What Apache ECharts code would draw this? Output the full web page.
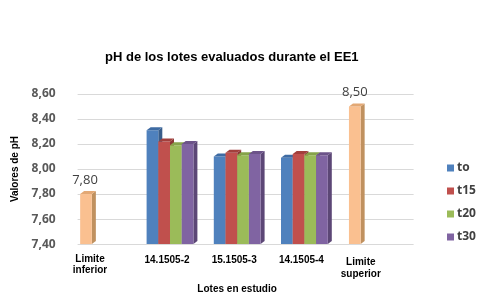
<!DOCTYPE html>
<html><head><meta charset="utf-8">
<script src="https://cdn.jsdelivr.net/npm/echarts@6/dist/echarts.min.js"></script>
<style>html,body{margin:0;padding:0;background:#fff}#c{width:487px;height:299px}</style>
</head><body><div id="c"></div>
<script>
// ---- data ----
const categories = ["Limite\ninferior", "14.1505-2", "15.1505-3", "14.1505-4", "Limite\nsuperior"];
const seriesNames = ["to", "t15", "t20", "t30"];
const toVals  = [8.31, 8.10, 8.09];
const t15Vals = [8.22, 8.13, 8.12];
const t20Vals = [8.19, 8.11, 8.11];
const t30Vals = [8.20, 8.12, 8.11];
const limitVals = [7.80, 8.50]; // Limite inferior, Limite superior
const yMin = 7.4, yMax = 8.6, yStep = 0.2;

// ---- layout (not data) ----
const slotOf = [0, 5, 9, 13, 16];
const nSlots = 20;
const barW = 11.7, depthX = 4, depthY = 3;
const groupColors = [
  {front: '#4F81BD', side: '#385D8A', top: '#3E6BA3'},
  {front: '#C0504D', side: '#8C3836', top: '#A23F3C'},
  {front: '#9BBB59', side: '#71893F', top: '#86A34A'},
  {front: '#8064A2', side: '#5C4776', top: '#6C5389'}
];
const limitColor = {front: '#FAC090', side: '#C0915F', top: '#E3A874'};

const xData = [];
for (let i = 0; i < nSlots; i++) xData.push('');
categories.forEach((c, i) => { xData[slotOf[i]] = c; });

const fmt = v => v.toFixed(2).replace('.', ',');

function makeRender(offsetIdx, nInGroup, col, withLabel) {
  return function (params, api) {
    const x = api.value(0), v = api.value(1);
    const top = api.coord([x, v]);
    const base = api.coord([x, yMin]);
    const off = (offsetIdx - (nInGroup - 1) / 2) * barW;
    const x0 = top[0] + off - barW / 2;
    const x1 = x0 + barW;
    const children = [
      {type: 'polygon', shape: {points: [[x1, top[1]], [x1 + depthX, top[1] - depthY], [x1 + depthX, base[1] - depthY], [x1, base[1]]]}, style: {fill: col.side}},
      {type: 'rect', shape: {x: x0, y: top[1], width: barW, height: base[1] - top[1]}, style: {fill: col.front}},
      {type: 'polygon', shape: {points: [[x0, top[1]], [x0 + depthX, top[1] - depthY], [x1 + depthX, top[1] - depthY], [x1, top[1]]]}, style: {fill: col.top}}
    ];
    if (withLabel) {
      const dx = params.dataIndex === 0 ? -1 : 0;
      children.push({type: 'text', style: {text: fmt(v), x: top[0] + dx, y: top[1] - 14, align: 'center', verticalAlign: 'middle', fill: '#404040', font: '13px "Open Sans"'}});
    }
    return {type: 'group', children: children};
  };
}

const groupVals = [toVals, t15Vals, t20Vals, t30Vals];
const series = groupVals.map((vals, k) => ({
  name: seriesNames[k],
  type: 'custom',
  itemStyle: {color: groupColors[k].front},
  renderItem: makeRender(k, 4, groupColors[k], false),
  data: vals.map((v, i) => [slotOf[i + 1], v])
}));
series.unshift({
  name: 'Limite',
  type: 'custom',
  itemStyle: {color: limitColor.front},
  renderItem: makeRender(0, 1, limitColor, true),
  data: [[slotOf[0], limitVals[0]], [slotOf[4], limitVals[1]]]
});

const chart = echarts.init(document.getElementById('c'), null, {renderer: 'canvas'});
chart.setOption({
  animation: false,
  backgroundColor: '#fff',
  title: {
    text: 'pH de los lotes evaluados durante el EE1',
    left: 100, top: 46,
    textStyle: {fontFamily: 'Liberation Sans', fontWeight: 'bold', fontSize: 13, color: '#000'}
  },
  legend: {
    data: seriesNames,
    orient: 'vertical',
    left: 442, top: 156,
    icon: 'rect', itemWidth: 7, itemHeight: 7, itemGap: 9,
    textStyle: {fontFamily: 'Open Sans', fontWeight: 'bold', fontSize: 12, color: '#404040', lineHeight: 14, padding: [0, 0, 0, -2]}
  },
  grid: {left: 77.6, width: 336, top: 94, height: 156},
  xAxis: {
    type: 'category',
    data: xData,
    boundaryGap: true,
    axisLine: {show: false}, axisTick: {show: false},
    name: 'Lotes en estudio',
    nameLocation: 'middle', nameGap: 36,
    nameTextStyle: {fontFamily: 'Liberation Sans', fontWeight: 'bold', fontSize: 10, color: '#000', padding: [0, 17, 0, 0]},
    axisLabel: {
      interval: 0, margin: 10,
      formatter: function (val, idx) {
        if (!val) return '';
        const st = idx === slotOf[0] ? 'li' : (idx === slotOf[4] ? 'ls' : 'g');
        return val.split('\n').map(l => '{' + st + '|' + l + '}').join('\n');
      },
      rich: {
        g:  {fontFamily: 'Liberation Sans', fontWeight: 'bold', fontSize: 10, color: '#000', lineHeight: 12, padding: [0, 6, 0, 0]},
        li: {fontFamily: 'Liberation Sans', fontWeight: 'bold', fontSize: 10, color: '#000', lineHeight: 11, padding: [0, 0, 0, 8]},
        ls: {fontFamily: 'Liberation Sans', fontWeight: 'bold', fontSize: 10, color: '#000', lineHeight: 12, padding: [4, 0, 0, 12]}
      }
    }
  },
  yAxis: {
    type: 'value', min: yMin, max: yMax, interval: yStep,
    axisLine: {show: false}, axisTick: {show: false},
    splitLine: {lineStyle: {color: '#D9D9D9', width: 1}},
    axisLabel: {formatter: fmt, margin: 22, fontFamily: 'Open Sans', fontWeight: 'bold', fontSize: 12, color: '#595959'},
    name: 'Valores de pH', nameLocation: 'middle', nameGap: 50, nameRotate: 90,
    nameTextStyle: {fontFamily: 'Liberation Sans', fontWeight: 'bold', fontSize: 10, color: '#000'}
  },
  series: series
});
</script>
</body></html>
